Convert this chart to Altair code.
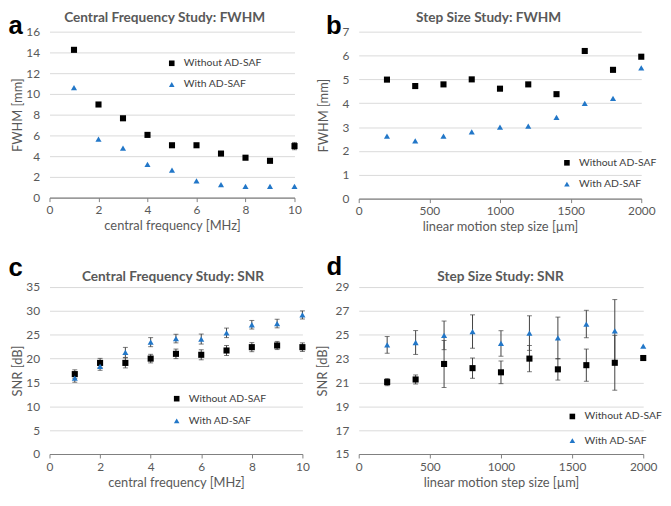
import altair as alt
import pandas as pd

# ---------------- data ----------------
SERIES = ["Without AD-SAF", "With AD-SAF"]

freq = [1, 2, 3, 4, 5, 6, 7, 8, 9, 10]
step = [200, 400, 600, 800, 1000, 1200, 1400, 1600, 1800, 2000]

# a) Central frequency study: FWHM [mm]
fwhm_freq_without = [14.25, 8.98, 7.65, 6.05, 5.05, 5.05, 4.25, 3.85, 3.55, 4.97]
fwhm_freq_without_err = [0, 0, 0, 0, 0, 0, 0, 0, 0, 0.35]
fwhm_freq_with = [10.6, 5.65, 4.78, 3.2, 2.65, 1.62, 1.25, 1.08, 1.08, 1.08]
fwhm_freq_with_err = [0, 0, 0, 0, 0, 0, 0, 0, 0, 0]

# b) Step size study: FWHM [mm]
fwhm_step_without = [4.99, 4.72, 4.79, 5.0, 4.61, 4.79, 4.38, 6.19, 5.4, 5.95]
fwhm_step_without_err = [0, 0, 0, 0, 0, 0, 0, 0, 0, 0]
fwhm_step_with = [2.62, 2.42, 2.62, 2.8, 3.0, 3.04, 3.41, 3.99, 4.2, 5.48]
fwhm_step_with_err = [0, 0, 0, 0, 0, 0, 0, 0, 0, 0]

# c) Central frequency study: SNR [dB]
snr_freq_without = [16.75, 19.1, 19.1, 20.0, 21.0, 20.8, 21.7, 22.4, 22.75, 22.4]
snr_freq_without_err = [0.9, 0.95, 1.05, 0.9, 1.0, 1.05, 1.05, 0.95, 0.85, 0.9]
snr_freq_with = [15.9, 18.35, 21.3, 23.45, 24.2, 24.1, 25.4, 27.1, 27.35, 29.15]
snr_freq_with_err = [0.85, 0.8, 1.05, 0.95, 0.9, 1.05, 1.0, 0.9, 0.9, 0.85]

# d) Step size study: SNR [dB]
snr_step_without = [21.03, 21.25, 22.55, 22.2, 21.85, 23.0, 22.1, 22.45, 22.65, 23.05]
snr_step_without_err = [0.3, 0.38, 1.97, 0.85, 0.95, 1.1, 0.9, 1.35, 2.3, 0]
snr_step_with = [24.15, 24.35, 24.95, 25.27, 24.27, 25.14, 24.73, 25.9, 25.33, 24.04]
snr_step_with_err = [0.7, 1.0, 1.2, 1.4, 1.07, 1.45, 1.75, 1.15, 2.62, 0]

# ---------------- style ----------------
FONT = "Lato"
TXT = "#595959"
BLUE = "#2277C8"
ERR = "#404040"


def make_df(xs, without, without_err, with_, with_err):
    rows = []
    for name, ys, es in ((SERIES[0], without, without_err), (SERIES[1], with_, with_err)):
        for xv, yv, ev in zip(xs, ys, es):
            rows.append({"x": xv, "y": yv, "lo": yv - ev, "hi": yv + ev,
                         "err": ev, "series": name})
    return pd.DataFrame(rows)


def panel(df, letter, letter_xy, title, title_xy, xtitle, ytitle, xdom, xvals,
          ydom, yvals, w, h, legend_xy, row_pad, ytitle_pad, xpads):
    xscale = alt.Scale(domain=xdom, nice=False, zero=False)
    yscale = alt.Scale(domain=ydom, nice=False, zero=False)
    xaxis = alt.Axis(values=xvals, title=xtitle, grid=False, domain=True, format="d",
                     ticks=True, tickSize=4, labelPadding=xpads[0], titlePadding=xpads[1],
                     labelFlush=False)
    yaxis = alt.Axis(values=yvals, title=ytitle, grid=True, domain=False,
                     ticks=False, labelPadding=10, minExtent=20, maxExtent=20,
                     titlePadding=ytitle_pad)
    legend = alt.Legend(orient="none", legendX=legend_xy[0], legendY=legend_xy[1],
                        title=None, labelFont=FONT, labelFontSize=10.5,
                        labelColor="#404040", symbolSize=32, rowPadding=row_pad,
                        padding=0, labelOffset=7, symbolStrokeWidth=0)
    base = alt.Chart(df)
    errs = base.transform_filter("datum.err > 0").mark_errorbar(
        color=ERR, ticks={"size": 5, "color": ERR, "thickness": 1},
        rule={"color": ERR, "strokeWidth": 1},
    ).encode(
        x=alt.X("x:Q", scale=xscale, axis=xaxis),
        y=alt.Y("lo:Q", scale=yscale, axis=yaxis, title=ytitle),
        y2="hi:Q",
    )
    pts = base.mark_point(filled=True, opacity=1, size=38).encode(
        x=alt.X("x:Q", scale=xscale, axis=xaxis),
        y=alt.Y("y:Q", scale=yscale, axis=yaxis),
        color=alt.Color("series:N", scale=alt.Scale(domain=SERIES, range=["#000000", BLUE]),
                        legend=legend),
        shape=alt.Shape("series:N", scale=alt.Scale(domain=SERIES, range=["square", "triangle-up"]),
                        legend=legend),
        order=alt.Order("series:N", sort="descending"),
    )
    lab = alt.Chart(pd.DataFrame({"t": [letter]})).mark_text(
        font="Liberation Sans", fontWeight="bold", fontSize=26, align="left",
        baseline="alphabetic", color="#000000",
    ).encode(text="t:N", x=alt.value(letter_xy[0]), y=alt.value(letter_xy[1]))
    ttl = alt.Chart(pd.DataFrame({"t": [title]})).mark_text(
        font=FONT, fontWeight="bold", fontSize=13.8, align="center",
        baseline="alphabetic", color=TXT,
    ).encode(text="t:N", x=alt.value(title_xy[0]), y=alt.value(title_xy[1]))
    return alt.layer(errs, pts, lab, ttl).properties(width=w, height=h)


pa = panel(make_df(freq, fwhm_freq_without, fwhm_freq_without_err, fwhm_freq_with, fwhm_freq_with_err),
           "a", (-41.5, 2.5), "Central Frequency Study: FWHM", (116.5, -9.5),
           "central frequency [MHz]", "FWHM [mm]", [0, 10], [0, 2, 4, 6, 8, 10],
           [0, 16], list(range(0, 17, 2)), 248, 168, (118.5, 26.75), 10.5, 5, (3, 4))

pb = panel(make_df(step, fwhm_step_without, fwhm_step_without_err, fwhm_step_with, fwhm_step_with_err),
           "b", (-33, 2.5), "Step Size Study: FWHM", (131.5, -9.5),
           "linear motion step size [µm]", "FWHM [mm]", [0, 2000], [0, 500, 1000, 1500, 2000],
           [0, 7], list(range(0, 8)), 286, 169, (205.5, 127.5), 10.5, 9, (3, 4))

pc = panel(make_df(freq, snr_freq_without, snr_freq_without_err, snr_freq_with, snr_freq_with_err),
           "c", (-41.5, -11), "Central Frequency Study: SNR", (125, -6),
           "central frequency [MHz]", "SNR [dB]", [0, 10], [0, 2, 4, 6, 8, 10],
           [0, 35], list(range(0, 36, 5)), 256, 169, (123.5, 107.75), 11.5, 5, (4, 4))

pd_ = panel(make_df(step, snr_step_without, snr_step_without_err, snr_step_with, snr_step_with_err),
            "d", (-32.5, -12), "Step Size Study: SNR", (143.5, -6),
            "linear motion step size [µm]", "SNR [dB]", [0, 2000], [0, 500, 1000, 1500, 2000],
            [15, 29], list(range(15, 30, 2)), 288, 169, (211, 125.75), 13.5, 10, (4, 4))

chart = alt.concat(pa, pb, pc, pd_, columns=2, spacing={"row": 89.5, "column": 57},
                   bounds="flush", align="each").resolve_scale(
    color="independent", shape="independent", x="independent", y="independent"
).resolve_legend(color="independent", shape="independent").properties(
    padding={"left": 0, "top": 0, "right": 0, "bottom": 0}
).configure_view(stroke=None).configure_axis(
    labelFont=FONT, labelColor=TXT, labelFontSize=12, titleFont=FONT,
    titleColor=TXT, titleFontSize=13, titleFontWeight="normal",
    gridColor="#d9d9d9", gridWidth=1, domainColor="#808080", tickColor="#808080",
    domainWidth=1.2,
)

chart.save("out.html", embed_options={"renderer": "svg", "actions": False})
